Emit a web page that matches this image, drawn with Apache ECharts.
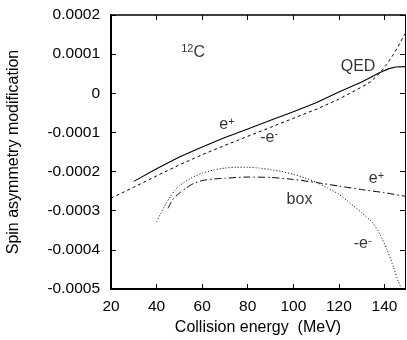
<!DOCTYPE html>
<html>
<head>
<meta charset="utf-8">
<script src="https://cdn.jsdelivr.net/npm/echarts@6/dist/echarts.min.js"></script>
<style>html,body{margin:0;padding:0;background:#fff}#c{width:407px;height:340px}</style>
</head>
<body>
<div id="c"></div>
<script>
// Values in units of 1e-4
const xTicks = [20, 40, 60, 80, 100, 120, 140];
const yTickLabels = ['-0.0005', '-0.0004', '-0.0003', '-0.0002', '-0.0001', '0', '0.0001', '0.0002'];

const qedPosE = [30, 40, 50, 60, 70, 80, 90, 100, 110, 120, 130, 138, 142, 145, 149];
const qedPosV = [-2.25, -1.93, -1.63, -1.37, -1.13, -0.91, -0.69, -0.47, -0.24, 0.03, 0.29, 0.53, 0.63, 0.67, 0.68];

const qedNegE = [20, 30, 40, 50, 60, 70, 80, 90, 100, 110, 120, 130, 134, 138, 141, 144, 146, 149];
const qedNegV = [-2.68, -2.40, -2.11, -1.83, -1.57, -1.33, -1.10, -0.87, -0.64, -0.41, -0.15, 0.16, 0.30, 0.52, 0.74, 1.0, 1.2, 1.52];

const boxNegE = [40, 42, 44, 46, 48, 50, 55, 60, 65, 70, 75, 80, 85, 90, 95, 100, 105, 110, 115, 120, 125, 130, 135, 138, 141, 144, 146, 147.5];
const boxNegV = [-3.28, -3.05, -2.83, -2.64, -2.48, -2.36, -2.17, -2.04, -1.96, -1.91, -1.89, -1.89, -1.91, -1.95, -2.0, -2.07, -2.16, -2.27, -2.42, -2.58, -2.81, -3.05, -3.32, -3.6, -3.98, -4.45, -4.8, -5.0];

const boxPosE = [45, 47, 50, 53, 56, 60, 65, 70, 80, 90, 100, 110, 120, 130, 140, 149];
const boxPosV = [-2.94, -2.72, -2.55, -2.42, -2.31, -2.23, -2.19, -2.17, -2.14, -2.15, -2.20, -2.28, -2.37, -2.46, -2.54, -2.63];

const annotations = [
  { text: '{sup|12}{b|C}', x: 56.0, y: 1.03 },
  { text: '{b|QED}', x: 128.4, y: 0.67 },
  { text: '{b|e}{sup|+}', x: 70.9, y: -0.81 },
  { text: '{b|-e}{sup|-}', x: 89.4, y: -1.12 },
  { text: '{b|box}', x: 102.7, y: -2.72 },
  { text: '{b|e}{sup|+}', x: 136.5, y: -2.19 },
  { text: '{b|-e}{sup|-}', x: 130.4, y: -3.85 }
];

const FONT = 'Liberation Sans, Arial, sans-serif';
const zip = (a, b) => a.map((v, i) => [v, b[i]]);

const chart = echarts.init(document.getElementById('c'), null, { renderer: 'canvas' });

const xBase = {
  type: 'value', min: 20, max: 149, interval: 20,
  splitLine: { show: false },
  axisTick: { show: true, inside: true, length: 5, lineStyle: { color: '#000', width: 1 } }
};
const yBase = {
  type: 'value', min: -5, max: 2, interval: 1,
  splitLine: { show: false },
  axisTick: { show: true, inside: true, length: 5, lineStyle: { color: '#000', width: 1 } }
};

function line(E, V, type, width, smooth) {
  return {
    type: 'line', data: zip(E, V), symbol: 'none', showSymbol: false,
    smooth: smooth,
    lineStyle: { color: '#000', width: width, type: type },
    clip: true, silent: true
  };
}

chart.setOption({
  animation: false,
  backgroundColor: '#fff',
  grid: { left: 111, right: 2, top: 15, bottom: 51, containLabel: false, outerBoundsMode: 'none' },
  xAxis: [
    Object.assign({}, xBase, {
      position: 'bottom',
      axisLine: { show: true, onZero: false, lineStyle: { color: '#000', width: 2 } },
      axisLabel: {
        color: '#000', fontSize: 15.5, fontFamily: FONT, margin: 10,
        formatter: v => xTicks.includes(v) ? String(v) : ''
      },
      name: 'Collision energy  (MeV)', nameLocation: 'middle', nameGap: 25,
      nameTextStyle: { color: '#000', fontSize: 16, fontFamily: FONT }
    }),
    Object.assign({}, xBase, {
      position: 'top',
      axisLine: { show: true, onZero: false, lineStyle: { color: '#000', width: 1.5 } },
      axisLabel: { show: false }
    })
  ],
  yAxis: [
    Object.assign({}, yBase, {
      position: 'left',
      axisLine: { show: true, onZero: false, lineStyle: { color: '#000', width: 2 } },
      axisLabel: {
        color: '#000', fontSize: 15.5, fontFamily: FONT, margin: 11,
        formatter: v => yTickLabels[Math.round(v) + 5] || ''
      },
      name: 'Spin asymmetry modification', nameLocation: 'middle', nameGap: 89,
      nameTextStyle: { color: '#000', fontSize: 16, fontFamily: FONT }
    }),
    Object.assign({}, yBase, {
      position: 'right',
      axisLine: { show: true, onZero: false, lineStyle: { color: '#000', width: 1 } },
      axisLabel: { show: false }
    })
  ],
  series: [
    line(qedPosE, qedPosV, 'solid', 1.1, false),
    line(qedNegE, qedNegV, [3, 3], 1, false),
    line(boxNegE, boxNegV, [1, 2], 1, 0.2),
    line(boxPosE, boxPosV, [7, 3, 1.5, 3], 1, 0.2),
    {
      type: 'scatter', symbolSize: 0, silent: true,
      data: annotations.map(a => ({ value: [a.x, a.y], label: { formatter: a.text } })),
      label: {
        show: true, position: 'inside', color: '#000', fontSize: 16, fontFamily: FONT,
        rich: {
          b: { fontSize: 16, fontFamily: FONT, color: '#000', lineHeight: 18 },
          sup: { fontSize: 11, fontFamily: FONT, color: '#000', verticalAlign: 'top', lineHeight: 12 }
        }
      }
    }
  ]
});
</script>
</body>
</html>
